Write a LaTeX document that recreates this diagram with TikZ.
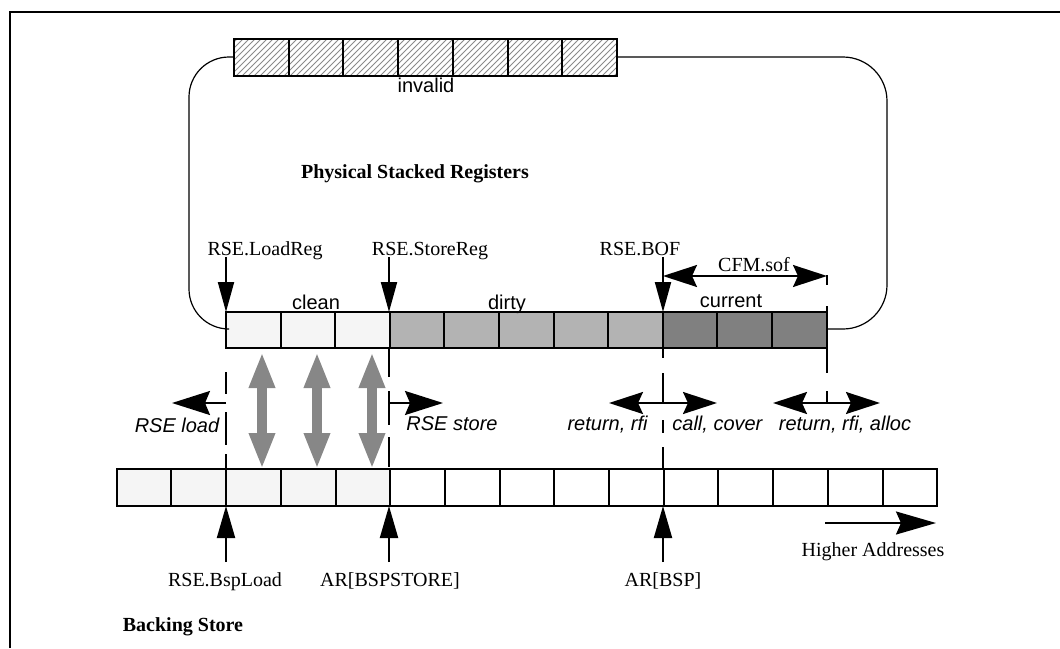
\documentclass[tikz,border=0pt]{standalone}
\usepackage{fontspec}
\setmainfont{Liberation Serif}
\setsansfont{Liberation Sans}
\usetikzlibrary{arrows.meta,patterns}
\definecolor{cleanc}{HTML}{F5F5F5}
\definecolor{dirtyc}{HTML}{B3B3B3}
\definecolor{currc}{HTML}{808080}
\definecolor{grayarrc}{HTML}{878787}
\definecolor{hatchc}{HTML}{8A8A8A}
\begin{document}
\begin{tikzpicture}[x=0.5pt,y=-0.5pt,
  cell/.style={line width=1pt},
  txt/.style={inner sep=0pt,anchor=base,font=\fontsize{10}{12}\selectfont},
  sanstxt/.style={txt,font=\fontsize{10}{12}\selectfont\sffamily},
  optxt/.style={txt,font=\fontsize{10}{12}\selectfont\sffamily\itshape},
  boldtxt/.style={txt,font=\fontsize{10}{12}\selectfont\bfseries},
  ptr/.style={line width=1pt,-{Triangle[length=15pt,width=8pt]}},
  hptr/.style={line width=1pt,-{Stealth[length=19pt,width=12pt,inset=2.5pt]}},
  dptr/.style={line width=1pt,{Stealth[length=17pt,width=11pt,inset=2.5pt]}-{Stealth[length=17pt,width=11pt,inset=2.5pt]}},
  grayarr/.style={line width=5pt,draw=grayarrc,{Triangle[length=18pt,width=12pt]}-{Triangle[length=18pt,width=12pt]}},
  loopline/.style={line width=0.6pt},
  mark line/.style={line width=1pt}
]
\useasboundingbox (0,0) rectangle (1060,648);
% frame
\draw[line width=1pt] (10,648) -- (10,12) -- (1060,12);

% invalid row
\foreach \i in {0,...,6}
  \draw[cell,pattern=north east lines,pattern color=hatchc] ({234+54.7*\i},39) rectangle ++(54.7,37);
\coordinate (invW) at (234,57);
\coordinate (invE) at (617,57);
\node[sanstxt] (tinvalid) at (426,92) {invalid};

% register row
\foreach \i in {0,1,2}
  \draw[cell,fill=cleanc] ({226+54.6*\i},312) rectangle ++(54.6,36);
\foreach \i in {3,...,7}
  \draw[cell,fill=dirtyc] ({226+54.6*\i},312) rectangle ++(54.6,36);
\foreach \i in {8,9,10}
  \draw[cell,fill=currc] ({226+54.6*\i},312) rectangle ++(54.6,36);
\coordinate (regW) at (226,329);
\coordinate (regE) at (827,329);

% loop
\draw[loopline,rounded corners=20pt] (invW) -- (189,57) -- (189,329) -- (regW);
\draw[loopline,rounded corners=22pt] (invE) -- (887,57) -- (887,329) -- (regE);

\node[boldtxt] (tphys) at (415,178) {Physical Stacked Registers};
\node[sanstxt] (tclean) at (316,309) {clean};
\node[sanstxt] (tdirty) at (507,309) {dirty};
\node[sanstxt] (tcurrent) at (731,307) {current};

% top pointers
\node[txt] (tload) at (265,255) {RSE.LoadReg};
\node[txt] (tstore) at (430,255) {RSE.StoreReg};
\node[txt] (tbof) at (640,255) {RSE.BOF};
\coordinate (pLoadTop) at (226,257);
\coordinate (pLoad) at (226,312);
\coordinate (pStoreTop) at (389,257);
\coordinate (pStore) at (389,312);
\coordinate (pBofTop) at (663,257);
\coordinate (pBof) at (663,312);
\draw[ptr] (pLoadTop) -- (pLoad);
\draw[ptr] (pStoreTop) -- (pStore);
\draw[ptr] (pBofTop) -- (pBof);

% CFM.sof
\coordinate (sofL) at (663,276);
\coordinate (sofR) at (827,276);
\draw[dptr] (sofL) -- (sofR);
\node[txt] (tsof) at (754,271) {CFM.sof};
\draw[mark line] (827,275) -- (827,285);
\draw[mark line] (827,306) -- (827,373);
\draw[mark line] (827,391) -- (827,403);

% dashed guides
\draw[mark line] (226,348) -- (226,469) [dash pattern=on 0pt off 12pt on 11pt off 9pt on 16.5pt off 4.5pt on 13.5pt];
\draw[mark line] (389,348) -- (389,469) [dash pattern=on 14.5pt off 7pt on 17pt off 6pt on 15pt off 4pt on 10pt];
\draw[mark line] (663,348) -- (663,469) [dash pattern=on 5pt off 7.5pt on 15pt off 8.5pt on 6.5pt off 7pt on 16pt];

% gray transfer arrows
\foreach \x/\n in {262/ga, 317/gb, 372/gc} {
  \coordinate (\n t) at (\x,352);
  \coordinate (\n b) at (\x,469);
  \draw[grayarr] (\n t) -- (\n b);
}

% horizontal operation arrows
\coordinate (ldS) at (226,403);
\coordinate (ldE) at (172,403);
\coordinate (stS) at (389,403);
\coordinate (stE) at (443,403);
\coordinate (bL) at (609,403);
\coordinate (bR) at (717,403);
\coordinate (cL) at (773,403);
\coordinate (cR) at (880,403);
\draw[hptr] (ldS) -- (ldE);
\draw[hptr] (stS) -- (stE);
\draw[dptr] (bL) -- (bR);
\draw[dptr] (cL) -- (cR);
\node[optxt] (trload) at (177,432) {RSE load};
\node[optxt] (trstore) at (452,430) {RSE store};
\node[optxt,anchor=base east] (tret1) at (648,430) {return, rfi};
\node[optxt,anchor=base west] (tcall) at (672,430) {call, cover};
\node[optxt] (tret2) at (845,430) {return, rfi, alloc};

% backing store
\foreach \i in {0,...,4}
  \draw[cell,fill=cleanc] ({116.7+54.7*\i},469) rectangle ++(54.7,37);
\foreach \i in {5,...,14}
  \draw[cell,fill=white] ({116.7+54.7*\i},469) rectangle ++(54.7,37);

% bottom pointers
\coordinate (bsA) at (226,562);
\coordinate (bsAt) at (226,506);
\coordinate (bsB) at (389,562);
\coordinate (bsBt) at (389,506);
\coordinate (bsC) at (663,562);
\coordinate (bsCt) at (663,506);
\draw[line width=1pt,-{Triangle[length=16pt,width=9pt]}] (bsA) -- (bsAt);
\draw[line width=1pt,-{Triangle[length=16pt,width=9pt]}] (bsB) -- (bsBt);
\draw[line width=1pt,-{Triangle[length=16pt,width=9pt]}] (bsC) -- (bsCt);
\node[txt] (tbsp) at (225,586) {RSE.BspLoad};
\node[txt] (tbspst) at (390,586) {AR[BSPSTORE]};
\node[txt] (tbspar) at (663,586) {AR[BSP]};

% higher addresses
\coordinate (haS) at (825,523);
\coordinate (haE) at (936,523);
\draw[line width=1pt,-{Stealth[length=20pt,width=11.5pt,inset=2.5pt]}] (haS) -- (haE);
\node[txt] (thigher) at (873,556) {Higher Addresses};

\node[boldtxt] (tback) at (183,631) {Backing Store};
\end{tikzpicture}
\end{document}
